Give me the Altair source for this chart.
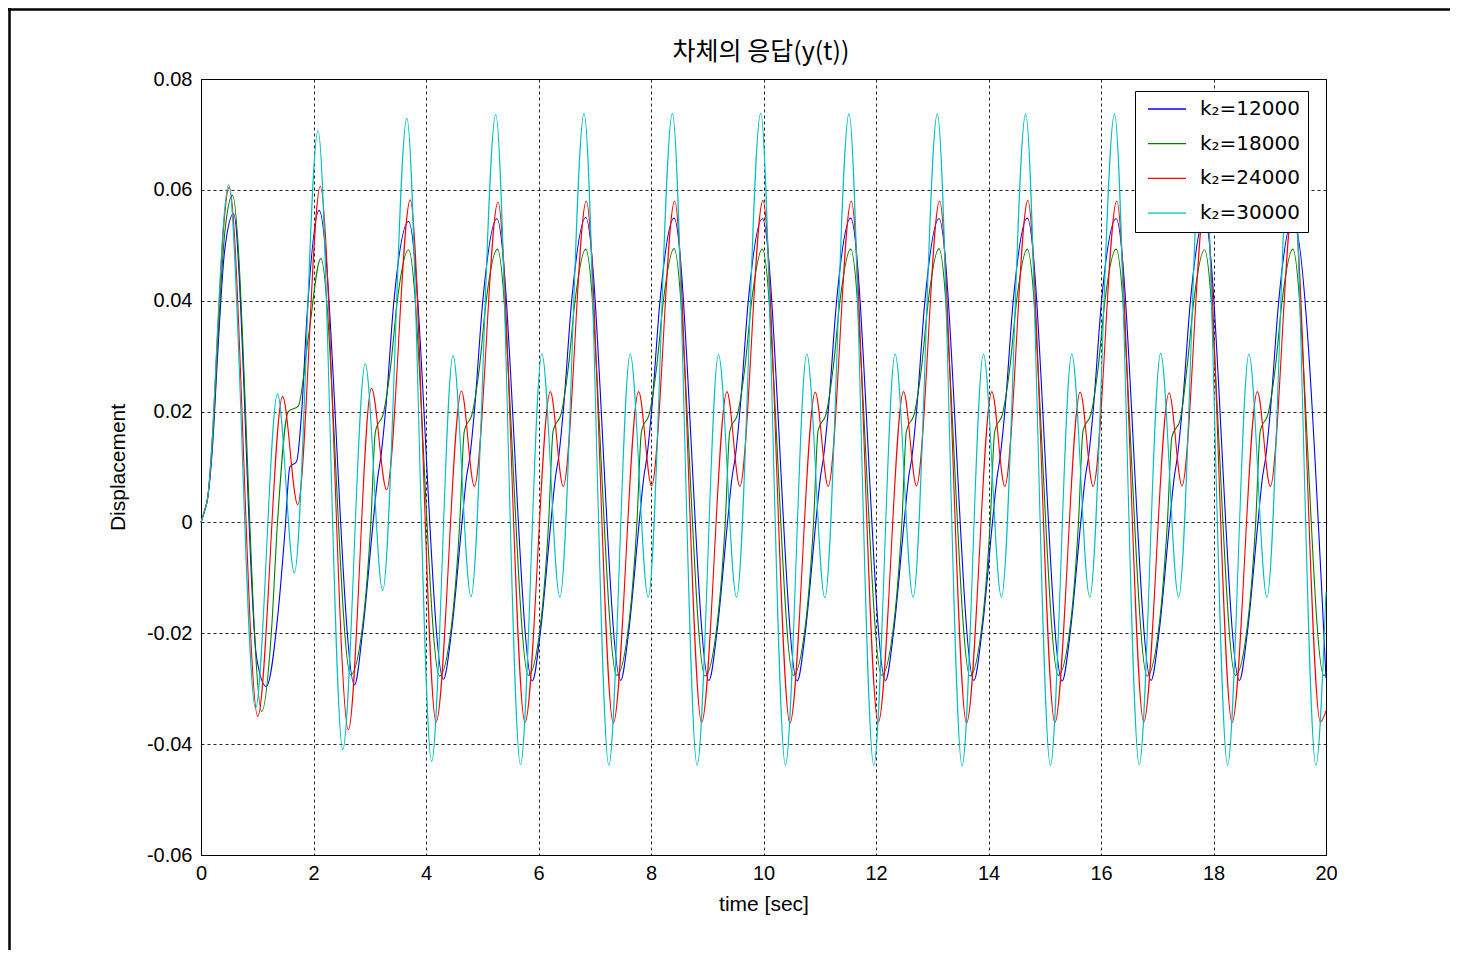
import altair as alt
import pandas as pd

series_names = ["k₂=12000", "k₂=18000", "k₂=24000", "k₂=30000"]
series_colors = ["#0000FF", "#008000", "#FF0000", "#00BFBF"]
x_ticks = [0, 2, 4, 6, 8, 10, 12, 14, 16, 18, 20]
y_ticks = [-0.06, -0.04, -0.02, 0.0, 0.02, 0.04, 0.06, 0.08]
chart_title = "차체의 응답(y(t))"

# k2 = 12000 (blue) - turning points
blue_t = [0, 0.06, 0.12, 0.20, 0.30, 0.42, 0.58, 0.99, 1.16, 1.375, 1.49, 1.58, 1.70, 1.79, 1.88, 2.10,
          2.73, 2.87, 3.06, 3.14, 3.20, 3.28, 3.43, 3.69,
          4.31, 4.45, 4.64, 4.72, 4.78, 4.86, 5.01, 5.26,
          5.89, 6.03, 6.22, 6.30, 6.36, 6.44, 6.59, 6.84,
          7.46, 7.60, 7.79, 7.87, 7.93, 8.01, 8.16, 8.41,
          9.03, 9.17, 9.36, 9.44, 9.50, 9.58, 9.73, 9.98,
          10.60, 10.74, 10.93, 11.01, 11.07, 11.15, 11.30, 11.55,
          12.17, 12.31, 12.50, 12.58, 12.64, 12.72, 12.87, 13.12,
          13.74, 13.88, 14.07, 14.15, 14.21, 14.29, 14.44, 14.69,
          15.31, 15.45, 15.64, 15.72, 15.78, 15.86, 16.01, 16.27,
          16.89, 17.03, 17.22, 17.30, 17.36, 17.44, 17.59, 17.84,
          18.46, 18.60, 18.79, 18.87, 18.93, 19.01, 19.16, 19.41,
          20.00]
blue_v = [0, 0.002, 0.0045, 0.013, 0.031, 0.049, 0.0557, -0.0245, -0.0296, -0.0158, -0.002, 0.0100, 0.0110, 0.0200, 0.0365, 0.0563,
          -0.0293, -0.0200, 0.0000, 0.0080, 0.0120, 0.0200, 0.0400, 0.0543,
          -0.0283, -0.0200, 0.0000, 0.0082, 0.0118, 0.0200, 0.0400, 0.0548,
          -0.0286, -0.0201, 0.0000, 0.0081, 0.0119, 0.0200, 0.0400, 0.0550,
          -0.0285, -0.0200, 0.0000, 0.0080, 0.0120, 0.0200, 0.0400, 0.0549,
          -0.0285, -0.0200, 0.0000, 0.0081, 0.0119, 0.0200, 0.0400, 0.0548,
          -0.0286, -0.0201, 0.0000, 0.0080, 0.0120, 0.0200, 0.0400, 0.0549,
          -0.0285, -0.0200, 0.0000, 0.0081, 0.0119, 0.0200, 0.0400, 0.0548,
          -0.0285, -0.0200, 0.0000, 0.0080, 0.0120, 0.0200, 0.0400, 0.0549,
          -0.0286, -0.0201, 0.0000, 0.0081, 0.0119, 0.0200, 0.0400, 0.0548,
          -0.0285, -0.0200, 0.0000, 0.0080, 0.0120, 0.0200, 0.0400, 0.0549,
          -0.0285, -0.0200, 0.0000, 0.0081, 0.0119, 0.0200, 0.0400, 0.0548,
          -0.0281]

# k2 = 18000 (green)
green_t = [0, 0.06, 0.12, 0.20, 0.30, 0.42, 0.56, 1.08, 1.25, 1.36, 1.55, 1.73, 1.91, 2.13,
           2.66, 2.88, 3.02, 3.10, 3.25, 3.37, 3.49, 3.69,
           4.24, 4.46, 4.60, 4.68, 4.83, 4.95, 5.07, 5.27,
           5.82, 6.04, 6.18, 6.26, 6.41, 6.53, 6.65, 6.84,
           7.39, 7.61, 7.75, 7.83, 7.98, 8.10, 8.22, 8.41,
           8.96, 9.18, 9.32, 9.40, 9.55, 9.67, 9.79, 9.98,
           10.53, 10.75, 10.89, 10.97, 11.12, 11.24, 11.36, 11.55,
           12.10, 12.32, 12.46, 12.54, 12.69, 12.81, 12.93, 13.12,
           13.67, 13.89, 14.03, 14.11, 14.26, 14.38, 14.50, 14.69,
           15.24, 15.46, 15.60, 15.68, 15.83, 15.95, 16.07, 16.27,
           16.82, 17.04, 17.18, 17.26, 17.41, 17.53, 17.65, 17.84,
           18.39, 18.61, 18.75, 18.83, 18.98, 19.10, 19.22, 19.41,
           19.96, 20.00]
green_v = [0, 0.002, 0.0045, 0.014, 0.033, 0.052, 0.0590, -0.0341, -0.0200, 0.0000, 0.0200, 0.0210, 0.0335, 0.0476,
           -0.0275, -0.0180, 0.0000, 0.0164, 0.0200, 0.0280, 0.0400, 0.0492,
           -0.0277, -0.0180, 0.0000, 0.0164, 0.0200, 0.0280, 0.0400, 0.0493,
           -0.0276, -0.0181, 0.0000, 0.0165, 0.0199, 0.0280, 0.0400, 0.0493,
           -0.0276, -0.0180, 0.0000, 0.0164, 0.0200, 0.0280, 0.0400, 0.0494,
           -0.0277, -0.0180, 0.0000, 0.0164, 0.0200, 0.0280, 0.0400, 0.0493,
           -0.0276, -0.0181, 0.0000, 0.0165, 0.0199, 0.0280, 0.0400, 0.0493,
           -0.0276, -0.0180, 0.0000, 0.0164, 0.0200, 0.0280, 0.0400, 0.0494,
           -0.0277, -0.0180, 0.0000, 0.0164, 0.0200, 0.0280, 0.0400, 0.0493,
           -0.0276, -0.0181, 0.0000, 0.0165, 0.0199, 0.0280, 0.0400, 0.0493,
           -0.0277, -0.0180, 0.0000, 0.0154, 0.0186, 0.0280, 0.0400, 0.0492,
           -0.0276, -0.0180, 0.0000, 0.0164, 0.0200, 0.0280, 0.0400, 0.0493,
           -0.0276, -0.0274]

# k2 = 24000 (red)
red_t = [0, 0.06, 0.12, 0.20, 0.30, 0.40, 0.50, 1.01, 1.45, 1.72, 2.12,
         2.62, 3.03, 3.30, 3.72,
         4.18, 4.63, 4.86, 5.28,
         5.76, 6.21, 6.44, 6.85,
         7.33, 7.78, 8.01, 8.42,
         8.90, 9.35, 9.58, 9.99,
         10.47, 10.92, 11.15, 11.56,
         12.04, 12.49, 12.72, 13.13,
         13.61, 14.06, 14.29, 14.70,
         15.18, 15.63, 15.86, 16.28,
         16.76, 17.21, 17.44, 17.85,
         18.33, 18.78, 19.01, 19.42,
         19.90, 20.00]
red_v = [0, 0.002, 0.0045, 0.015, 0.035, 0.053, 0.0605, -0.0350, 0.0227, 0.0032, 0.0606,
         -0.0374, 0.0242, 0.0059, 0.0582,
         -0.0360, 0.0237, 0.0065, 0.0578,
         -0.0361, 0.0236, 0.0065, 0.0580,
         -0.0362, 0.0236, 0.0066, 0.0580,
         -0.0361, 0.0236, 0.0065, 0.0581,
         -0.0362, 0.0235, 0.0065, 0.0580,
         -0.0361, 0.0236, 0.0066, 0.0580,
         -0.0362, 0.0236, 0.0065, 0.0581,
         -0.0361, 0.0235, 0.0065, 0.0580,
         -0.0360, 0.0234, 0.0066, 0.0580,
         -0.0361, 0.0236, 0.0065, 0.0580,
         -0.0360, -0.0340]

# k2 = 30000 (cyan)
cyan_t = [0, 0.06, 0.12, 0.20, 0.30, 0.40, 0.49, 0.97, 1.36, 1.66, 2.08,
          2.52, 2.92, 3.23, 3.66,
          4.10, 4.48, 4.80, 5.24,
          5.68, 6.06, 6.38, 6.81,
          7.25, 7.63, 7.95, 8.38,
          8.82, 9.20, 9.52, 9.95,
          10.39, 10.77, 11.09, 11.52,
          11.96, 12.34, 12.66, 13.09,
          13.53, 13.91, 14.23, 14.66,
          15.10, 15.48, 15.80, 16.24,
          16.68, 17.06, 17.38, 17.81,
          18.25, 18.63, 18.95, 19.38,
          19.82, 20.00]
cyan_v = [0, 0.002, 0.0045, 0.015, 0.036, 0.054, 0.0609, -0.0335, 0.0232, -0.0091, 0.0707,
          -0.0410, 0.0286, -0.0123, 0.0729,
          -0.0431, 0.0301, -0.0134, 0.0736,
          -0.0437, 0.0304, -0.0135, 0.0738,
          -0.0438, 0.0304, -0.0135, 0.0738,
          -0.0438, 0.0303, -0.0135, 0.0738,
          -0.0438, 0.0304, -0.0136, 0.0737,
          -0.0438, 0.0304, -0.0135, 0.0737,
          -0.0439, 0.0304, -0.0135, 0.0737,
          -0.0438, 0.0304, -0.0135, 0.0737,
          -0.0437, 0.0305, -0.0135, 0.0737,
          -0.0438, 0.0304, -0.0135, 0.0737,
          -0.0438, -0.0125]

frames = []
for name, ts, vs in zip(series_names,
                        [blue_t, green_t, red_t, cyan_t],
                        [blue_v, green_v, red_v, cyan_v]):
    frames.append(pd.DataFrame({"t": ts, "y": vs, "series": name}))
df = pd.concat(frames, ignore_index=True)

LABEL_FONT = "Liberation Sans"

x_enc = alt.X("t:Q",
              scale=alt.Scale(domain=[0, 20], nice=False, zero=False),
              axis=alt.Axis(values=x_ticks, format="d", title="time [sec]",
                            grid=True, ticks=False, tickSize=0, domain=False,
                            labelFlush=False,
                            labelPadding=8, titlePadding=10))
y_enc = alt.Y("y:Q",
              scale=alt.Scale(domain=[-0.06, 0.08], nice=False, zero=False),
              axis=alt.Axis(values=y_ticks, title="Displacement",
                            labelExpr="replace(format(datum.value, '.2~f'), '\u2212', '-')",
                            grid=True, ticks=False, tickSize=0, domain=False,
                            labelFlush=False,
                            labelPadding=9, titlePadding=18))
color_enc = alt.Color("series:N",
                      scale=alt.Scale(domain=series_names, range=series_colors),
                      legend=alt.Legend(title=None, orient="none", legendX=934, legendY=12,
                                        symbolType="stroke", symbolSize=1444,
                                        symbolStrokeWidth=1.3, symbolOffset=4,
                                        labelFont="DejaVu Sans", labelFontSize=20,
                                        labelColor="black", labelOffset=13,
                                        padding=8, clipHeight=20, rowPadding=14.7,
                                        strokeColor="black", fillColor="white",
                                        cornerRadius=0))

base = alt.Chart(df).mark_line(strokeWidth=1.1, interpolate="monotone").encode(
    x=x_enc, y=y_enc, color=color_enc)

layers = [base.transform_filter(alt.datum.series == n) for n in series_names]

frame_df = pd.DataFrame({"k": [0]})
title_text = alt.Chart(frame_df).mark_text(
    text=chart_title, font="Noto Sans CJK KR", fontSize=25, color="black",
    align="center", baseline="middle").encode(x=alt.value(560), y=alt.value(-27))
top_border = alt.Chart(frame_df).mark_rule(color="black", strokeWidth=2.5).encode(
    x=alt.value(-193), x2=alt.value(1249), y=alt.value(-69.5))
left_border = alt.Chart(frame_df).mark_rule(color="black", strokeWidth=2.5).encode(
    x=alt.value(-191.5), y=alt.value(-71), y2=alt.value(871))

chart = alt.layer(*layers, title_text, top_border, left_border).properties(
    width=1125, height=776,
    autosize=alt.AutoSizeParams(type="none"),
    padding={"left": 193, "top": 71, "right": 124, "bottom": 95},
).configure(background="white").configure_view(
    stroke="black", strokeWidth=1
).configure_axis(
    labelFont=LABEL_FONT, labelFontSize=20, labelColor="black",
    titleFont=LABEL_FONT, titleFontSize=21, titleFontWeight="normal", titleColor="black",
    gridColor="black", gridDash=[3, 3], gridOpacity=0.85, gridWidth=1
)

chart.save("out.html", embed_options={"renderer": "svg", "actions": False})
